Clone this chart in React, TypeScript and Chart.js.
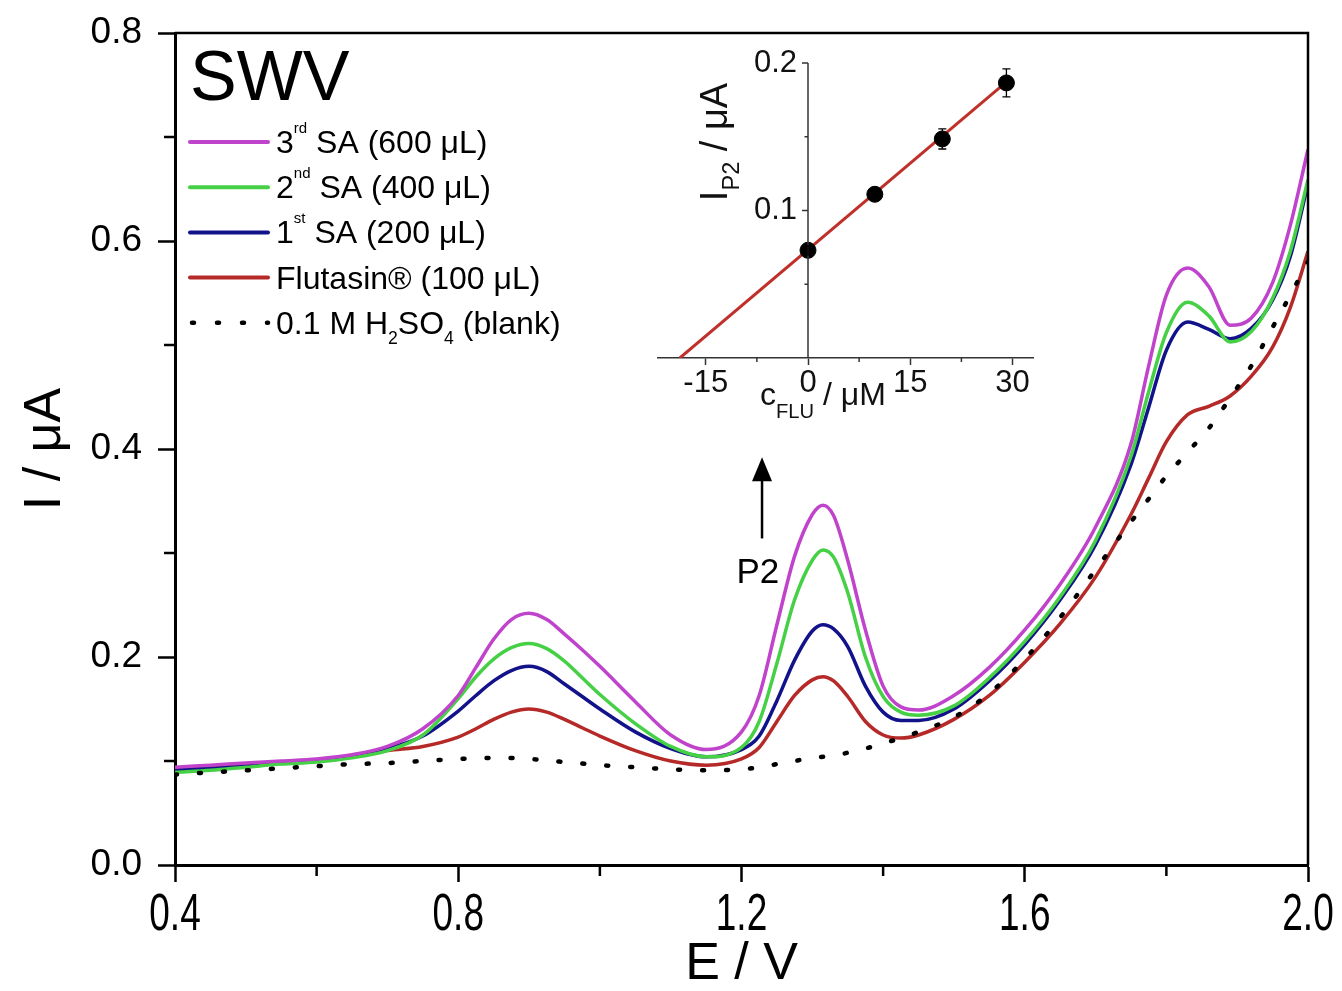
import React, { useEffect, useRef } from 'react';
import { Chart, registerables } from 'chart.js';

Chart.register(...registerables);

const FONT = '"Liberation Sans", Arial, Helvetica, sans-serif';

// ---------- main SWV data (E / V, I / µA) ----------
const potential = [
  0.40, 0.45, 0.50, 0.55, 0.60, 0.65, 0.70, 0.75, 0.80,
  0.825, 0.85, 0.875, 0.90, 0.925, 0.95, 0.975, 1.00,
  1.05, 1.10, 1.15, 1.20,
  1.225, 1.25, 1.275, 1.30, 1.315, 1.33, 1.35, 1.375, 1.40, 1.425, 1.45,
  1.50, 1.55, 1.60, 1.65, 1.70, 1.75,
  1.775, 1.80, 1.83, 1.86, 1.89, 1.92, 1.95, 1.975, 2.00,
];
const thirdSA = [
  0.094, 0.096, 0.098, 0.100, 0.102, 0.106, 0.114, 0.131, 0.163,
  0.190, 0.217, 0.236, 0.242, 0.236, 0.222, 0.207, 0.191,
  0.157, 0.125, 0.111, 0.128,
  0.163, 0.231, 0.297, 0.337, 0.346, 0.336, 0.293, 0.226, 0.172, 0.152, 0.149,
  0.163, 0.190, 0.226, 0.270, 0.325, 0.405,
  0.480, 0.548, 0.574, 0.556, 0.519, 0.526, 0.560, 0.615, 0.688,
];
const secondSA = [
  0.089, 0.091, 0.094, 0.097, 0.099, 0.103, 0.110, 0.125, 0.160,
  0.181, 0.198, 0.209, 0.213, 0.208, 0.196, 0.180, 0.164,
  0.136, 0.114, 0.104, 0.113,
  0.138, 0.194, 0.255, 0.293, 0.303, 0.296, 0.262, 0.200, 0.162, 0.147, 0.144,
  0.153, 0.180, 0.215, 0.258, 0.312, 0.393,
  0.455, 0.512, 0.541, 0.528, 0.503, 0.513, 0.545, 0.590, 0.659,
];
const firstSA = [
  0.091, 0.093, 0.095, 0.098, 0.100, 0.104, 0.112, 0.124, 0.148,
  0.163, 0.177, 0.187, 0.191, 0.186, 0.174, 0.162, 0.150,
  0.128, 0.112, 0.104, 0.111,
  0.124, 0.158, 0.197, 0.225, 0.231, 0.227, 0.210, 0.172, 0.147, 0.139, 0.139,
  0.150, 0.177, 0.212, 0.255, 0.308, 0.385,
  0.440, 0.495, 0.522, 0.515, 0.506, 0.516, 0.543, 0.585, 0.655,
];
const flutasin = [
  0.092, 0.094, 0.096, 0.098, 0.100, 0.104, 0.110, 0.114, 0.123,
  0.131, 0.140, 0.147, 0.150, 0.147, 0.140, 0.132, 0.124,
  0.110, 0.100, 0.096, 0.102,
  0.113, 0.138, 0.163, 0.178, 0.181, 0.177, 0.162, 0.138, 0.125, 0.122, 0.125,
  0.140, 0.163, 0.195, 0.232, 0.277, 0.337,
  0.372, 0.407, 0.433, 0.441, 0.451, 0.470, 0.498, 0.536, 0.590,
];
const blank = [
  0.087, 0.089, 0.091, 0.093, 0.095, 0.097, 0.098, 0.100, 0.102,
  0.1025, 0.103, 0.103, 0.102, 0.1005, 0.099, 0.0975, 0.096,
  0.094, 0.092, 0.091, 0.092,
  0.094, 0.097, 0.100, 0.103, 0.104, 0.105, 0.108, 0.112, 0.117, 0.122, 0.128,
  0.142, 0.165, 0.198, 0.238, 0.284, 0.330,
  0.352, 0.374, 0.397, 0.420, 0.449, 0.480, 0.517, 0.548, 0.580,
];

const mainXMajor = [0.4, 0.8, 1.2, 1.6, 2.0];
const mainXMinor = [0.6, 1.0, 1.4, 1.8];
const mainYMajor = [0.0, 0.2, 0.4, 0.6, 0.8];
const mainYMinor = [0.1, 0.3, 0.5, 0.7];

// ---------- inset: standard addition calibration ----------
const insetConc = [0, 9.8, 19.7, 29.1];
const insetCurrent = [0.073, 0.111, 0.1485, 0.1865];
const insetError = [0.003, 0.003, 0.0068, 0.0095];
const fitConc = [-18.8, 29.2];
const fitCurrent = [0.0, 0.1875];
const insetXMajor = [-15, 0, 15, 30];
const insetXMinor = [-7.5, 7.5, 22.5];
const insetYMajor = [0.1, 0.2];
const insetYMinor = [0.05, 0.15];

// annotation anchors (data coordinates)
const arrowE = 1.229;
const arrowFromI = 0.314;
const arrowBaseI = 0.370;
const arrowTipI = 0.392;
const p2E = 1.223;
const p2I = 0.271;

type Seg = { t: string; sup?: boolean; sub?: boolean };

const legendLabels: Seg[][] = [
  [{ t: '3' }, { t: 'rd', sup: true }, { t: ' SA (600 μL)' }],
  [{ t: '2' }, { t: 'nd', sup: true }, { t: ' SA (400 μL)' }],
  [{ t: '1' }, { t: 'st', sup: true }, { t: ' SA (200 μL)' }],
  [{ t: 'Flutasin®' }, { t: ' (100 μL)' }],
  [{ t: '0.1 M H' }, { t: '2', sub: true }, { t: 'SO' }, { t: '4', sub: true }, { t: ' (blank)' }],
];

const COLORS = {
  third: '#C043CC',
  second: '#46D046',
  first: '#12128A',
  flutasin: '#B52A28',
  blank: '#000000',
  fit: '#C0302A',
};
const legendColors = [COLORS.third, COLORS.second, COLORS.first, COLORS.flutasin, COLORS.blank];

function segWidth(ctx: CanvasRenderingContext2D, segs: Seg[], size: number, supScale: number, subScale: number) {
  let w = 0;
  for (const s of segs) {
    const fs = s.sup ? size * supScale : s.sub ? size * subScale : size;
    ctx.font = `${fs}px ${FONT}`;
    w += ctx.measureText(s.t).width;
  }
  return w;
}

function drawSegs(
  ctx: CanvasRenderingContext2D,
  x: number,
  y: number,
  segs: Seg[],
  size: number,
  opts: { supScale: number; subScale: number; supShift: number; subShift: number }
) {
  let cx = x;
  ctx.textBaseline = 'alphabetic';
  ctx.textAlign = 'left';
  for (const s of segs) {
    const fs = s.sup ? size * opts.supScale : s.sub ? size * opts.subScale : size;
    ctx.font = `${fs}px ${FONT}`;
    const dy = s.sup ? -opts.supShift : s.sub ? opts.subShift : 0;
    ctx.fillText(s.t, cx, y + dy);
    cx += ctx.measureText(s.t).width;
  }
  return cx;
}

const mk = (xs: number[], ys: number[]) => xs.map((x, i) => ({ x, y: ys[i] }));

const mainDecor = {
  id: 'mainDecor',
  afterDraw(chart: any) {
    const { ctx, chartArea: a } = chart;
    const xs = chart.scales.x;
    const ys = chart.scales.y;
    ctx.save();
    // frame (top & right)
    ctx.strokeStyle = '#000';
    ctx.lineWidth = 2.5;
    ctx.beginPath();
    ctx.moveTo(a.left, a.top);
    ctx.lineTo(a.right, a.top);
    ctx.lineTo(a.right, a.bottom);
    ctx.stroke();
    // minor ticks
    for (const v of mainXMinor) {
      const px = xs.getPixelForValue(v);
      ctx.beginPath();
      ctx.moveTo(px, a.bottom);
      ctx.lineTo(px, a.bottom + 11);
      ctx.stroke();
    }
    for (const v of mainYMinor) {
      const py = ys.getPixelForValue(v);
      ctx.beginPath();
      ctx.moveTo(a.left, py);
      ctx.lineTo(a.left - 11, py);
      ctx.stroke();
    }
    // x tick labels (tall glyphs as in the reference)
    ctx.fillStyle = '#000';
    for (const v of mainXMajor) {
      const px = xs.getPixelForValue(v);
      ctx.save();
      ctx.translate(px, a.bottom + 51);
      ctx.scale(1, 1.42);
      ctx.font = `37px ${FONT}`;
      ctx.textAlign = 'center';
      ctx.textBaseline = 'middle';
      ctx.fillText(v.toFixed(1), 0, 0);
      ctx.restore();
    }
    // SWV label
    ctx.font = `70px ${FONT}`;
    ctx.textAlign = 'left';
    ctx.textBaseline = 'alphabetic';
    ctx.fillText('SWV', a.left + 15, a.top + 67);
    // legend
    const lx0 = a.left + 15;
    const lx1 = a.left + 93;
    const tx = a.left + 101;
    legendLabels.forEach((segs, i) => {
      const rowY = a.top + 109 + i * 45.2;
      ctx.strokeStyle = legendColors[i];
      ctx.lineWidth = i === 4 ? 4.5 : 4;
      ctx.lineCap = 'round';
      if (i === 4) ctx.setLineDash([2, 23]);
      else ctx.setLineDash([]);
      ctx.beginPath();
      ctx.moveTo(i === 4 ? lx0 + 2 : lx0, rowY);
      ctx.lineTo(lx1, rowY);
      ctx.stroke();
      ctx.setLineDash([]);
      ctx.fillStyle = '#000';
      drawSegs(ctx, tx, rowY + 11, segs, 32, { supScale: 0.47, subScale: 0.55, supShift: 20, subShift: 10 });
    });
    // arrow to P2
    const ax = xs.getPixelForValue(arrowE);
    const ay0 = ys.getPixelForValue(arrowFromI);
    const ayb = ys.getPixelForValue(arrowBaseI);
    const ayt = ys.getPixelForValue(arrowTipI);
    ctx.strokeStyle = '#000';
    ctx.lineWidth = 2.5;
    ctx.lineCap = 'butt';
    ctx.beginPath();
    ctx.moveTo(ax, ay0);
    ctx.lineTo(ax, ayb);
    ctx.stroke();
    ctx.fillStyle = '#000';
    ctx.beginPath();
    ctx.moveTo(ax, ayt);
    ctx.lineTo(ax - 10, ayb + 1);
    ctx.lineTo(ax + 10, ayb + 1);
    ctx.closePath();
    ctx.fill();
    ctx.font = `35px ${FONT}`;
    ctx.textAlign = 'center';
    ctx.textBaseline = 'alphabetic';
    ctx.fillText('P2', xs.getPixelForValue(p2E), ys.getPixelForValue(p2I));
    ctx.restore();
  },
};

const insetDecor = {
  id: 'insetDecor',
  afterDraw(chart: any) {
    const { ctx, chartArea: a } = chart;
    const xs = chart.scales.x;
    const ys = chart.scales.y;
    ctx.save();
    const x0 = xs.getPixelForValue(0);
    // y axis crossing at c = 0
    ctx.strokeStyle = '#333';
    ctx.lineWidth = 1.5;
    ctx.beginPath();
    ctx.moveTo(x0, ys.getPixelForValue(0));
    ctx.lineTo(x0, ys.getPixelForValue(0.2));
    ctx.stroke();
    for (const v of insetYMajor) {
      const py = ys.getPixelForValue(v);
      ctx.beginPath();
      ctx.moveTo(x0, py);
      ctx.lineTo(x0 - 6, py);
      ctx.stroke();
    }
    for (const v of insetYMinor) {
      const py = ys.getPixelForValue(v);
      ctx.beginPath();
      ctx.moveTo(x0, py);
      ctx.lineTo(x0 - 3.5, py);
      ctx.stroke();
    }
    for (const v of insetXMinor) {
      const px = xs.getPixelForValue(v);
      ctx.beginPath();
      ctx.moveTo(px, a.bottom);
      ctx.lineTo(px, a.bottom + 4);
      ctx.stroke();
    }
    ctx.fillStyle = '#111';
    ctx.font = `31px ${FONT}`;
    ctx.textAlign = 'right';
    ctx.textBaseline = 'middle';
    for (const v of insetYMajor) {
      ctx.fillText(v.toFixed(1), x0 - 11, ys.getPixelForValue(v));
    }
    // error bars
    ctx.strokeStyle = '#000';
    ctx.lineWidth = 1.3;
    insetConc.forEach((c, i) => {
      const px = xs.getPixelForValue(c);
      const pLo = ys.getPixelForValue(insetCurrent[i] - insetError[i]);
      const pHi = ys.getPixelForValue(insetCurrent[i] + insetError[i]);
      ctx.beginPath();
      ctx.moveTo(px, pLo);
      ctx.lineTo(px, pHi);
      ctx.moveTo(px - 4, pLo);
      ctx.lineTo(px + 4, pLo);
      ctx.moveTo(px - 4, pHi);
      ctx.lineTo(px + 4, pHi);
      ctx.stroke();
    });
    // axis titles
    ctx.fillStyle = '#111';
    const ySegs: Seg[] = [{ t: 'I' }, { t: 'P2', sub: true }, { t: ' / μA' }];
    const yOpts = { supScale: 0.5, subScale: 0.62, supShift: 14, subShift: 12 };
    const yw = segWidth(ctx, ySegs, 38, yOpts.supScale, yOpts.subScale);
    ctx.save();
    ctx.translate(x0 - 81, a.top + 79);
    ctx.rotate(-Math.PI / 2);
    drawSegs(ctx, -yw / 2, 0, ySegs, 38, yOpts);
    ctx.restore();
    const xSegs: Seg[] = [{ t: 'c' }, { t: 'FLU', sub: true }, { t: ' / μM' }];
    drawSegs(ctx, x0 - 48, a.bottom + 47, xSegs, 32, { supScale: 0.5, subScale: 0.63, supShift: 14, subShift: 13 });
    ctx.restore();
  },
};

export default function App() {
  const mainRef = useRef<HTMLCanvasElement>(null);
  const insetRef = useRef<HTMLCanvasElement>(null);

  useEffect(() => {
    const lineDs = (label: string, ys: number[], color: string) => ({
      label,
      data: mk(potential, ys),
      borderColor: color,
      backgroundColor: color,
      borderWidth: 3.5,
      pointRadius: 0,
      cubicInterpolationMode: 'monotone' as const,
      fill: false,
    });

    const main = new Chart(mainRef.current as HTMLCanvasElement, {
      type: 'line',
      data: {
        datasets: [
          {
            ...lineDs('0.1 M H2SO4 (blank)', blank, COLORS.blank),
            borderWidth: 4.5,
            borderDash: [2, 22],
            borderCapStyle: 'round',
          },
          lineDs('3rd SA (600 μL)', thirdSA, COLORS.third),
          lineDs('2nd SA (400 μL)', secondSA, COLORS.second),
          lineDs('1st SA (200 μL)', firstSA, COLORS.first),
          lineDs('Flutasin® (100 μL)', flutasin, COLORS.flutasin),
        ] as any,
      },
      options: {
        responsive: false,
        animation: false,
        devicePixelRatio: 1,
        layout: { autoPadding: false, padding: { top: 33, right: 34, left: 0, bottom: 0 } },
        plugins: { legend: { display: false }, tooltip: { enabled: false } },
        scales: {
          x: {
            type: 'linear',
            min: 0.4,
            max: 2.0,
            afterBuildTicks: (s: any) => {
              s.ticks = mainXMajor.map((v) => ({ value: v }));
            },
            afterFit: (s: any) => {
              s.height = 126;
            },
            grid: { drawOnChartArea: false, drawTicks: true, tickLength: 17, tickWidth: 2.5, tickColor: '#000' },
            border: { display: true, color: '#000', width: 3 },
            ticks: { display: false },
            title: {
              display: true,
              text: 'E / V',
              color: '#000',
              font: { family: FONT, size: 52 },
              padding: { top: 0, bottom: -5 },
            },
          },
          y: {
            type: 'linear',
            min: 0,
            max: 0.8,
            afterBuildTicks: (s: any) => {
              s.ticks = mainYMajor.map((v) => ({ value: v }));
            },
            afterFit: (s: any) => {
              s.width = 175;
              s.paddingTop = 0;
              s.paddingBottom = 0;
            },
            grid: { drawOnChartArea: false, drawTicks: true, tickLength: 17, tickWidth: 2.5, tickColor: '#000' },
            border: { display: true, color: '#000', width: 3 },
            ticks: {
              color: '#000',
              padding: 16,
              font: { family: FONT, size: 37 },
              callback: (v: any) => Number(v).toFixed(1),
            },
            title: {
              display: true,
              text: 'I / μA',
              color: '#000',
              font: { family: FONT, size: 52 },
              padding: { top: 14, bottom: 0 },
            },
          },
        },
      } as any,
      plugins: [mainDecor],
    });

    const inset = new Chart(insetRef.current as HTMLCanvasElement, {
      type: 'scatter',
      data: {
        datasets: [
          {
            label: 'I_P2',
            data: mk(insetConc, insetCurrent),
            pointRadius: 8,
            pointBackgroundColor: '#000',
            pointBorderColor: '#000',
            showLine: false,
          },
          {
            label: 'linear fit',
            data: mk(fitConc, fitCurrent),
            showLine: true,
            borderColor: COLORS.fit,
            borderWidth: 3,
            pointRadius: 0,
          },
        ] as any,
      },
      options: {
        responsive: false,
        animation: false,
        devicePixelRatio: 1,
        layout: { autoPadding: false, padding: { left: 18, right: 27, top: 23, bottom: 0 } },
        plugins: { legend: { display: false }, tooltip: { enabled: false } },
        scales: {
          x: {
            type: 'linear',
            min: -22,
            max: 33,
            position: 'bottom',
            afterBuildTicks: (s: any) => {
              s.ticks = insetXMajor.map((v) => ({ value: v }));
            },
            afterFit: (s: any) => {
              s.height = 82;
              s.paddingLeft = 0;
              s.paddingRight = 0;
            },
            grid: { drawOnChartArea: false, drawTicks: true, tickLength: 7, tickWidth: 1.5, tickColor: '#333' },
            border: { display: true, color: '#333', width: 1.5 },
            ticks: {
              color: '#111',
              padding: 0,
              maxRotation: 0,
              autoSkip: false,
              font: { family: FONT, size: 31 },
              callback: (v: any) => String(v),
            },
          },
          y: { type: 'linear', min: 0, max: 0.2, display: false },
        },
      } as any,
      plugins: [insetDecor],
    });

    return () => {
      main.destroy();
      inset.destroy();
    };
  }, []);

  return (
    <div style={{ position: 'absolute', left: 0, top: 0, width: 1342, height: 991, background: '#fff' }}>
      <canvas ref={mainRef} width={1342} height={991} style={{ position: 'absolute', left: 0, top: 0 }} />
      <canvas ref={insetRef} width={420} height={400} style={{ position: 'absolute', left: 640, top: 40 }} />
    </div>
  );
}
